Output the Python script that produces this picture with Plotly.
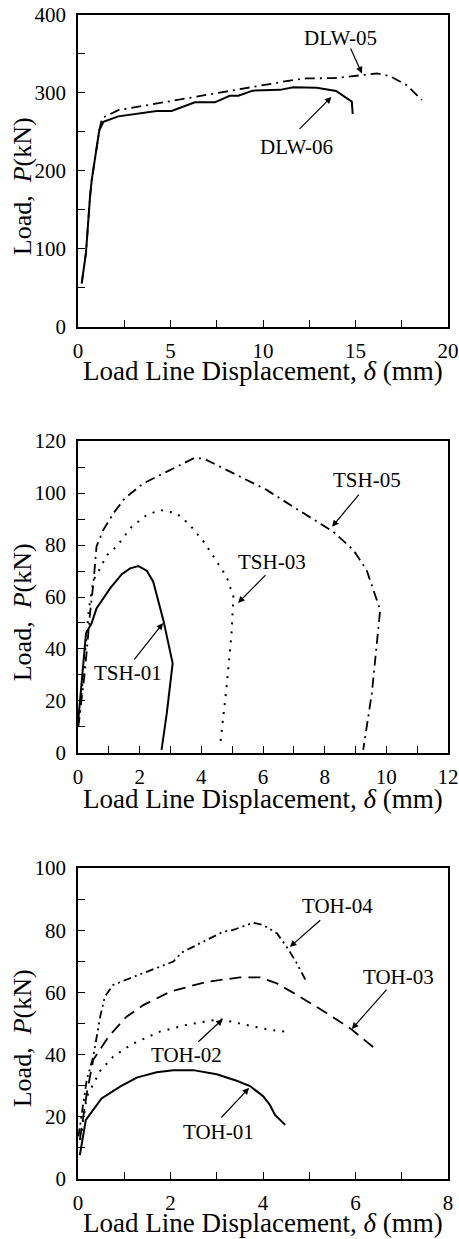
import plotly.graph_objects as go

# ---------------- Data ----------------
# Panel 1
dlw06_x = [0.2, 0.43, 0.65, 0.74, 1.15, 1.37, 2.18, 4.25, 5.06, 6.32, 7.4, 8.2, 8.67, 9.44, 10.92, 11.64, 12.9, 13.95, 14.8, 14.85]
dlw06_y = [56, 95, 167, 188, 252, 263, 270, 277, 277, 288, 288, 296.5, 296.5, 303, 304, 307.3, 306.8, 302.6, 289, 273]
dlw05_x = [0.2, 0.43, 0.65, 0.74, 1.15, 1.3, 2.18, 5.06, 7.5, 9.84, 11.64, 12.36, 13.8, 15.4, 16.15, 16.86, 17.77, 18.58]
dlw05_y = [56, 95, 167, 188, 252, 268, 278, 290, 299.6, 309, 316.7, 318.8, 319, 323, 325, 321.8, 310, 291]

# Panel 2
tsh01_x = [0.01, 0.26, 0.44, 0.6, 1.04, 1.42, 1.69, 1.96, 2.23, 2.44, 2.77, 3.07, 2.88, 2.71]
tsh01_y = [12.7, 46, 49.9, 55.6, 63.3, 68.8, 71, 71.9, 70.1, 65.9, 51, 34.5, 15.3, 1.2]
tsh03_x = [0.03, 0.2, 0.35, 0.5, 0.66, 0.93, 1.25, 1.74, 2.23, 2.66, 3.2, 3.63, 4.12, 4.5, 4.82, 5.04, 4.98, 4.82, 4.61]
tsh03_y = [12, 35, 55, 66.5, 69.7, 76, 79.4, 87, 91.5, 93.5, 92.2, 87.7, 80.6, 73.6, 67.8, 60.1, 46, 25.5, 3]
tsh05_x = [0.01, 0.23, 0.39, 0.5, 0.6, 0.82, 1.15, 1.52, 2.12, 2.88, 3.74, 4.07, 5.15, 6.12, 6.98, 8.28, 8.93, 9.36, 9.8, 9.69, 9.53, 9.25]
tsh05_y = [10, 32, 53.7, 65.3, 79.4, 85.8, 92.2, 98, 103.7, 108.2, 113.3, 113.3, 106.9, 101.2, 94.7, 85.1, 78.1, 70.4, 55, 40.9, 23, 1.2]

# Panel 3
toh01_x = [0.04, 0.17, 0.51, 0.91, 1.27, 1.7, 2.06, 2.49, 3.0, 3.43, 3.72, 4.01, 4.15, 4.26, 4.48]
toh01_y = [7.7, 19, 25.9, 29.7, 32.6, 34.3, 35, 35, 33.7, 31.6, 29.9, 26.5, 23.8, 20.6, 17.4]
toh02_x = [0.05, 0.1, 0.19, 0.48, 0.76, 1.16, 1.77, 2.42, 3.07, 3.65, 4.15, 4.48]
toh02_y = [12.6, 18, 26.5, 34.8, 39.3, 43.3, 47.4, 49.8, 51.4, 49.5, 47.9, 47.4]
toh03_x = [0.04, 0.19, 0.33, 0.66, 1.05, 1.41, 1.99, 2.78, 3.5, 3.94, 4.3, 4.8, 5.38, 5.88, 6.46]
toh03_y = [12.6, 27.6, 38.3, 45.8, 52.2, 55.9, 60.2, 63.4, 64.8, 64.8, 62.9, 58.6, 53.3, 48.5, 41.5]
toh04_x = [0.01, 0.19, 0.33, 0.48, 0.58, 0.76, 1.2, 1.7, 2.06, 2.24, 2.71, 3.14, 3.36, 3.79, 4.0, 4.3, 4.51, 4.73, 4.94]
toh04_y = [13.7, 31.9, 39.3, 52.2, 58.6, 62.4, 65, 67.7, 69.9, 72.8, 76.3, 79.5, 80.1, 82.4, 81.7, 79, 74.7, 69.4, 63.4]

# Curve labels: (panel, text, text_x, text_y, arrow_tail_x, arrow_tail_y, arrow_head_x, arrow_head_y)
labels = [
    (1, "DLW-05", 14.2, 371, 14.7, 359, 15.35, 325),
    (1, "DLW-06", 11.8, 231, 11.9, 252, 13.7, 295),
    (2, "TSH-05", 9.37, 105, 9.15, 100, 8.24, 87),
    (2, "TSH-03", 6.29, 73.5, 6.13, 69, 5.19, 57.7),
    (2, "TSH-01", 1.62, 30.8, 1.79, 35.4, 2.76, 50),
    (3, "TOH-04", 5.6, 87.8, 5.27, 83.6, 4.58, 74.6),
    (3, "TOH-03", 6.92, 65, 6.7, 61.4, 5.92, 48.2),
    (3, "TOH-02", 2.35, 39.9, 2.57, 43.7, 3.13, 51.4),
    (3, "TOH-01", 3.03, 15.1, 3.07, 19.3, 3.7, 29.3),
]

x_title = "Load Line Displacement, <i>δ</i> (mm)"
y_title = "Load,  <i>P</i>(kN)"

FONT = "Times New Roman, Liberation Serif, DejaVu Serif, serif"

fig = go.Figure()

def add(x, y, dash, panel, width=2.0):
    suf = "" if panel == 1 else str(panel)
    fig.add_trace(go.Scatter(
        x=x, y=y, mode="lines",
        line=dict(color="black", width=width, dash=dash),
        xaxis="x" + suf, yaxis="y" + suf,
        showlegend=False, hoverinfo="skip"))

DASHDOT = "10px,5px,2px,5px"
DOT = "2px,7px"
DASH = "12px,7px"
DASHDOTDOT = "8px,4px,2px,4px,2px,4px"

add(dlw06_x, dlw06_y, "solid", 1)
add(dlw05_x, dlw05_y, DASHDOT, 1, 1.8)
add(tsh01_x, tsh01_y, "solid", 2)
add(tsh03_x, tsh03_y, DOT, 2, 2.0)
add(tsh05_x, tsh05_y, DASHDOT, 2, 1.8)
add(toh01_x, toh01_y, "solid", 3)
add(toh02_x, toh02_y, DOT, 3, 2.0)
add(toh03_x, toh03_y, DASH, 3, 1.8)
add(toh04_x, toh04_y, DASHDOTDOT, 3, 1.8)

def xax(rng, dt, mdt, anchor):
    return dict(range=rng, dtick=dt, tick0=0, ticks="inside", ticklen=7, tickwidth=1.2,
                tickcolor="black", minor=dict(dtick=mdt, tick0=0, ticks="inside", ticklen=7,
                                               tickwidth=1.2, tickcolor="black"),
                showline=True, linecolor="black", linewidth=1.5, mirror=True,
                showgrid=False, zeroline=False, anchor=anchor, domain=[0, 1],
                tickfont=dict(family=FONT, size=21, color="black"),
                ticklabelstandoff=4, automargin=False, ticklabeloverflow="allow")

def yax(rng, dt, mdt, anchor, dom):
    d = xax(rng, dt, mdt, anchor)
    d["domain"] = dom
    d["ticklabelstandoff"] = 6
    return d

d1 = [0.732, 1.0]
d2 = [0.366, 0.634]
d3 = [0.0, 0.2672]

fig.update_layout(
    width=459, height=1239,
    margin=dict(l=78, r=11, t=15, b=60, autoexpand=False),
    paper_bgcolor="white", plot_bgcolor="white",
    font=dict(family=FONT, color="black"),
    xaxis=xax([0, 20], 5, 2.5, "y"),
    yaxis=yax([0, 400], 100, 50, "x", d1),
    xaxis2=xax([0, 12], 2, 1, "y2"),
    yaxis2=yax([0, 120], 20, 10, "x2", d2),
    xaxis3=xax([0, 8], 2, 1, "y3"),
    yaxis3=yax([0, 100], 20, 10, "x3", d3),
)

ann = []
for panel, txt, tx, ty, ax0, ay0, hx, hy in labels:
    suf = "" if panel == 1 else str(panel)
    ann.append(dict(x=tx, y=ty, xref="x" + suf, yref="y" + suf, text=txt, showarrow=False,
                    font=dict(family=FONT, size=21, color="black")))
    ann.append(dict(x=hx, y=hy, xref="x" + suf, yref="y" + suf, ax=ax0, ay=ay0,
                    axref="x" + suf, ayref="y" + suf, text="", showarrow=True,
                    arrowhead=2, arrowsize=1.1, arrowwidth=1.2, arrowcolor="black",
                    standoff=0, startstandoff=0))

# axis titles
for yc in [0.694, 0.3264, -0.0378]:
    ann.append(dict(x=0.5, y=yc, xref="paper", yref="paper", text=x_title, showarrow=False,
                    xanchor="center", yanchor="middle",
                    font=dict(family=FONT, size=27, color="black")))
for yc in [0.853, 0.487, 0.121]:
    ann.append(dict(x=-0.151, y=yc, xref="paper", yref="paper", text=y_title, showarrow=False,
                    xanchor="center", yanchor="middle", textangle=-90,
                    font=dict(family=FONT, size=26, color="black")))

fig.update_layout(annotations=ann)
fig.write_html("out.html", config={"displayModeBar": False},
               post_script="document.body.style.margin='0';document.body.style.overflow='hidden';")
